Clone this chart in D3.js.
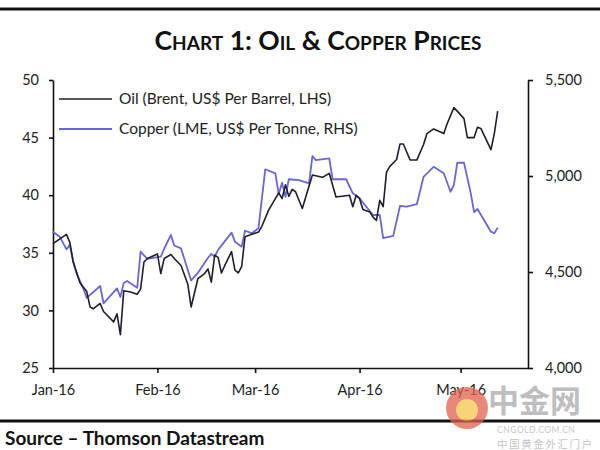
<!DOCTYPE html>
<html>
<head>
<meta charset="utf-8">
<script src="https://cdn.jsdelivr.net/npm/d3@7"></script>
<style>
  html, body { margin: 0; padding: 0; background: #fff; }
  svg { display: block; }
  text { font-family: Lato, "Open Sans", sans-serif; }
</style>
</head>
<body>
<svg id="chart" width="600" height="450"></svg>
<script>
// ---------- data ----------
const oilDates = ["2016-01-01","2016-01-05","2016-01-06","2016-01-07","2016-01-09","2016-01-11","2016-01-12","2016-01-13","2016-01-15","2016-01-16","2016-01-19","2016-01-20","2016-01-21","2016-01-22","2016-01-24","2016-01-26","2016-01-27","2016-01-28","2016-01-29",
"2016-02-01","2016-02-02","2016-02-03","2016-02-05","2016-02-06","2016-02-08","2016-02-10","2016-02-11","2016-02-13","2016-02-15","2016-02-16","2016-02-17","2016-02-18","2016-02-19","2016-02-20","2016-02-21","2016-02-23","2016-02-24","2016-02-25","2016-02-26","2016-02-27","2016-02-29",
"2016-03-02","2016-03-03","2016-03-05","2016-03-08","2016-03-09","2016-03-10","2016-03-11","2016-03-12","2016-03-13","2016-03-15","2016-03-18","2016-03-21","2016-03-23","2016-03-25","2016-03-29","2016-03-30","2016-03-31",
"2016-04-01","2016-04-02","2016-04-04","2016-04-05","2016-04-06","2016-04-07","2016-04-08","2016-04-09","2016-04-10","2016-04-12","2016-04-13","2016-04-14","2016-04-16","2016-04-18","2016-04-20","2016-04-21","2016-04-23","2016-04-26","2016-04-27","2016-04-29","2016-04-30",
"2016-05-02","2016-05-03","2016-05-05","2016-05-06","2016-05-07","2016-05-10","2016-05-11","2016-05-12"];
const oilValues = [35.8,36.6,35.9,34.2,32.4,31.65,30.3,30.15,30.6,29.9,29.0,29.7,27.9,31.7,31.6,31.4,31.85,34.2,34.5,
34.9,33.2,34.5,34.85,34.5,33.9,32.3,30.3,32.75,33.2,33.6,32.45,34.8,34.6,33.25,33.9,35.1,33.5,33.25,33.8,36.4,36.6,
36.8,37.3,38.7,40.2,39.7,40.9,39.9,40.5,40.3,38.85,41.75,41.55,41.9,39.85,40.0,39.0,40.0,
39.7,38.75,38.55,38.1,37.8,39.55,39.0,42.0,42.5,43.1,44.45,44.45,43.05,43.05,44.4,45.35,45.75,45.35,46.2,47.6,47.3,
46.65,45.0,45.0,45.9,45.8,43.95,45.35,47.3];

const copperDates = ["2016-01-01","2016-01-03","2016-01-05","2016-01-06","2016-01-07","2016-01-08","2016-01-10","2016-01-11","2016-01-15","2016-01-16","2016-01-20","2016-01-21","2016-01-22","2016-01-23","2016-01-26","2016-01-27","2016-01-29",
"2016-02-02","2016-02-03","2016-02-05","2016-02-06","2016-02-08","2016-02-11","2016-02-13","2016-02-16","2016-02-17","2016-02-18","2016-02-19","2016-02-23","2016-02-24","2016-02-26","2016-02-27","2016-02-29",
"2016-03-02","2016-03-04","2016-03-07","2016-03-08","2016-03-09","2016-03-10","2016-03-11","2016-03-14","2016-03-17","2016-03-18","2016-03-19","2016-03-23","2016-03-24","2016-03-28","2016-03-30",
"2016-04-01","2016-04-03","2016-04-05","2016-04-07","2016-04-08","2016-04-11","2016-04-13","2016-04-15","2016-04-18","2016-04-20","2016-04-21","2016-04-23","2016-04-26","2016-04-28","2016-04-29","2016-04-30",
"2016-05-02","2016-05-03","2016-05-04","2016-05-05","2016-05-06","2016-05-10","2016-05-11","2016-05-12"];
const copperValues = [4710,4684,4618,4641,4554,4493,4414,4365,4427,4337,4415,4370,4443,4453,4418,4606,4568,
4580,4621,4693,4638,4623,4456,4495,4574,4594,4580,4615,4705,4658,4632,4715,4702,
4728,5035,5014,4906,4965,4892,4983,4979,4962,5104,5083,5092,4983,4983,4910,
4884,4840,4797,4797,4676,4688,4844,4840,4853,4996,5014,5048,5014,4918,4953,5069,
5069,4990,4911,4812,4828,4710,4702,4731];

const leftTicks = [25, 30, 35, 40, 45, 50];
const rightTicks = [4000, 4500, 5000, 5500];
const monthTicks = ["2016-01-01","2016-02-01","2016-03-01","2016-04-01","2016-05-01"];
const xDomain = ["2016-01-01","2016-05-21"];

const titleText = "Chart 1: Oil & Copper Prices";
const legendLabels = ["Oil (Brent, US$ Per Barrel, LHS)", "Copper (LME, US$ Per Tonne, RHS)"];
const sourceText = "Source \u2013 Thomson Datastream";

// ---------- drawing ----------
const parse = d3.timeParse("%Y-%m-%d");
const svg = d3.select("#chart");
const W = 600, H = 450;
const plot = { left: 53, right: 528, top: 80, bottom: 368 };
const oilColor = "#1e1e2c", copperColor = "#6a66d8";

const x = d3.scaleTime().domain(xDomain.map(parse)).range([plot.left, plot.right]);
const yL = d3.scaleLinear().domain([25, 50]).range([plot.bottom, plot.top]);
const yR = d3.scaleLinear().domain([4000, 5500]).range([plot.bottom, plot.top]);

// top rule
svg.append("line").attr("x1", 0).attr("x2", W).attr("y1", 9).attr("y2", 9)
  .attr("stroke", "#111").attr("stroke-width", 3);

// title
svg.append("text").attr("x", 318).attr("y", 50).attr("text-anchor", "middle")
  .style("font-variant", "small-caps").style("font-weight", "bold")
  .style("font-size", "26.5px").attr("fill", "#111").text(titleText);

// axes
const axisStyle = g => {
  g.selectAll("path, line").attr("stroke", "#111").attr("stroke-width", 1.6);
  g.selectAll("text").attr("fill", "#222").style("font-size", "14.5px").style("font-family", "Lato, sans-serif");
};

svg.append("g").attr("transform", `translate(0,${plot.bottom})`)
  .call(d3.axisBottom(x).tickValues(monthTicks.map(parse)).tickFormat(d3.timeFormat("%b-%y"))
    .tickSizeInner(5).tickSizeOuter(0).tickPadding(12))
  .call(axisStyle);

svg.append("g").attr("transform", `translate(${plot.left},0)`)
  .call(d3.axisLeft(yL).tickValues(leftTicks).tickFormat(d3.format("d")).tickSizeInner(4).tickSizeOuter(0).tickPadding(10))
  .call(axisStyle);

svg.append("g").attr("transform", `translate(${plot.right},0)`)
  .call(d3.axisRight(yR).tickValues(rightTicks).tickFormat(d3.format(",")).tickSizeInner(5).tickSizeOuter(0).tickPadding(12))
  .call(axisStyle);

// lines
const oilData = oilDates.map((d, i) => ({ date: parse(d), v: oilValues[i] }));
const copperData = copperDates.map((d, i) => ({ date: parse(d), v: copperValues[i] }));

svg.append("path").datum(copperData)
  .attr("fill", "none").attr("stroke", copperColor).attr("stroke-width", 1.8).attr("stroke-linejoin", "round")
  .attr("d", d3.line().x(d => x(d.date)).y(d => yR(d.v)));

svg.append("path").datum(oilData)
  .attr("fill", "none").attr("stroke", oilColor).attr("stroke-width", 1.6).attr("stroke-linejoin", "round")
  .attr("d", d3.line().x(d => x(d.date)).y(d => yL(d.v)));

// legend
const legend = svg.append("g");
[oilColor, copperColor].forEach((c, i) => {
  const yy = 99 + i * 30;
  legend.append("line").attr("x1", 59).attr("x2", 112).attr("y1", yy).attr("y2", yy)
    .attr("stroke", c).attr("stroke-width", i === 0 ? 1.6 : 1.8);
  legend.append("text").attr("x", 119).attr("y", yy + 5).style("font-size", "15.5px")
    .attr("fill", "#222").text(legendLabels[i]);
});

// bottom rule and source
svg.append("line").attr("x1", 0).attr("x2", W).attr("y1", 421).attr("y2", 421)
  .attr("stroke", "#111").attr("stroke-width", 3);
svg.append("text").attr("x", 5).attr("y", 445).style("font-weight", "bold").style("font-size", "19px")
  .attr("fill", "#111").text(sourceText);

// watermark
const wm = svg.append("g").attr("opacity", 0.75);
wm.append("circle").attr("cx", 467).attr("cy", 408).attr("r", 21).attr("fill", "#e0614f");
wm.append("circle").attr("cx", 467).attr("cy", 410).attr("r", 11).attr("fill", "#f3c64a");
wm.append("text").attr("x", 488).attr("y", 412).style("font-family", "'Noto Sans CJK SC', sans-serif")
  .style("font-size", "31px").style("font-weight", "bold").attr("fill", "#a9a9a9").text("中金网");
wm.append("text").attr("x", 497).attr("y", 433).style("font-size", "8.5px").style("letter-spacing", "0.5px")
  .attr("fill", "#b5b5b5").text("CNGOLD.COM.CN");
wm.append("text").attr("x", 497).attr("y", 448).style("font-family", "'Noto Sans CJK SC', sans-serif")
  .style("font-size", "10.5px").style("letter-spacing", "1.6px").attr("fill", "#b0b0b0").text("中国黄金外汇门户");
</script>
</body>
</html>
